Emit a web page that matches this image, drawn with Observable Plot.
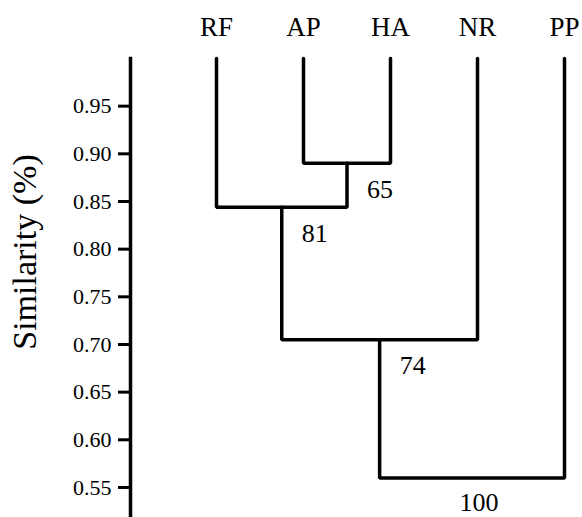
<!DOCTYPE html>
<html>
<head>
<meta charset="utf-8">
<script src="https://cdn.jsdelivr.net/npm/d3@7"></script>
<script src="https://cdn.jsdelivr.net/npm/@observablehq/plot@0.6"></script>
<style>
  html, body { margin: 0; padding: 0; background: #fff; }
  #chart { width: 582px; height: 517px; }
</style>
</head>
<body>
<div id="chart"></div>
<script>
// Data
const leaves = ["RF", "AP", "HA", "NR", "PP"];
const leafSimilarity = 1.0;
const mergeNames = ["C1", "C2", "C3", "C4"];
const mergeA = ["AP", "RF", "C2", "C3"];
const mergeB = ["HA", "C1", "NR", "PP"];
const mergeHeight = [0.890, 0.844, 0.705, 0.560];
const bootstrap = [65, 81, 74, 100];
const yTicks = [0.55, 0.60, 0.65, 0.70, 0.75, 0.80, 0.85, 0.90, 0.95];
const yTitle = "Similarity (%)";

// Build tree geometry from the data
const nodes = {};
leaves.forEach((name, i) => { nodes[name] = {x: i, y: leafSimilarity}; });
const paths = [];
const nodeLabels = [];
mergeNames.forEach((name, i) => {
  const A = nodes[mergeA[i]], B = nodes[mergeB[i]], h = mergeHeight[i];
  nodes[name] = {x: (A.x + B.x) / 2, y: h};
  paths.push({x: A.x, y: A.y, g: i}, {x: A.x, y: h, g: i}, {x: B.x, y: h, g: i}, {x: B.x, y: B.y, g: i});
  nodeLabels.push({x: nodes[name].x, y: h, label: String(bootstrap[i]), root: i === mergeNames.length - 1});
});
const leafData = leaves.map((name, i) => ({x: i, y: leafSimilarity, label: name}));

const FONT = "'Liberation Serif', 'Times New Roman', serif";

const chart = Plot.plot({
  width: 582,
  height: 517,
  marginTop: 58,
  marginBottom: 0,
  marginLeft: 130,
  marginRight: 0,
  style: {fontFamily: FONT, background: "#fff", color: "#000"},
  x: {domain: [0, leaves.length - 1], range: [216, 564], axis: null},
  y: {domain: [0.5185, 1.0], axis: null},
  marks: [
    Plot.frame({anchor: "left", stroke: "#000", strokeWidth: 3.5}),
    Plot.axisY(yTicks, {
      tickSize: 12, tickPadding: 7, strokeWidth: 3, tickFormat: d3.format(".2f"),
      fontSize: 22, fontFamily: FONT, label: null, stroke: "#000", fill: "#000"
    }),
    Plot.text([yTitle], {
      frameAnchor: "left", textAnchor: "middle", lineAnchor: "middle",
      rotate: -90, dx: -105.5, dy: -36,
      fontSize: 34, fontFamily: FONT, fill: "#000"
    }),
    Plot.line(paths, {x: "x", y: "y", z: "g", stroke: "#000", strokeWidth: 3.5, strokeLinejoin: "miter", curve: "linear"}),
    Plot.text(leafData, {x: "x", text: "label", frameAnchor: "top", lineAnchor: "middle", dy: -31.5, fontSize: 27, fontFamily: FONT, fill: "#000"}),
    Plot.text(nodeLabels.filter(d => !d.root), {x: "x", y: "y", text: "label", textAnchor: "start", dx: 20, dy: 26, fontSize: 26, fontFamily: FONT, fill: "#000"}),
    Plot.text(nodeLabels.filter(d => d.root), {x: "x", y: "y", text: "label", dx: 7, dy: 25, fontSize: 26, fontFamily: FONT, fill: "#000"})
  ]
});
document.getElementById("chart").appendChild(chart);
</script>
</body>
</html>
